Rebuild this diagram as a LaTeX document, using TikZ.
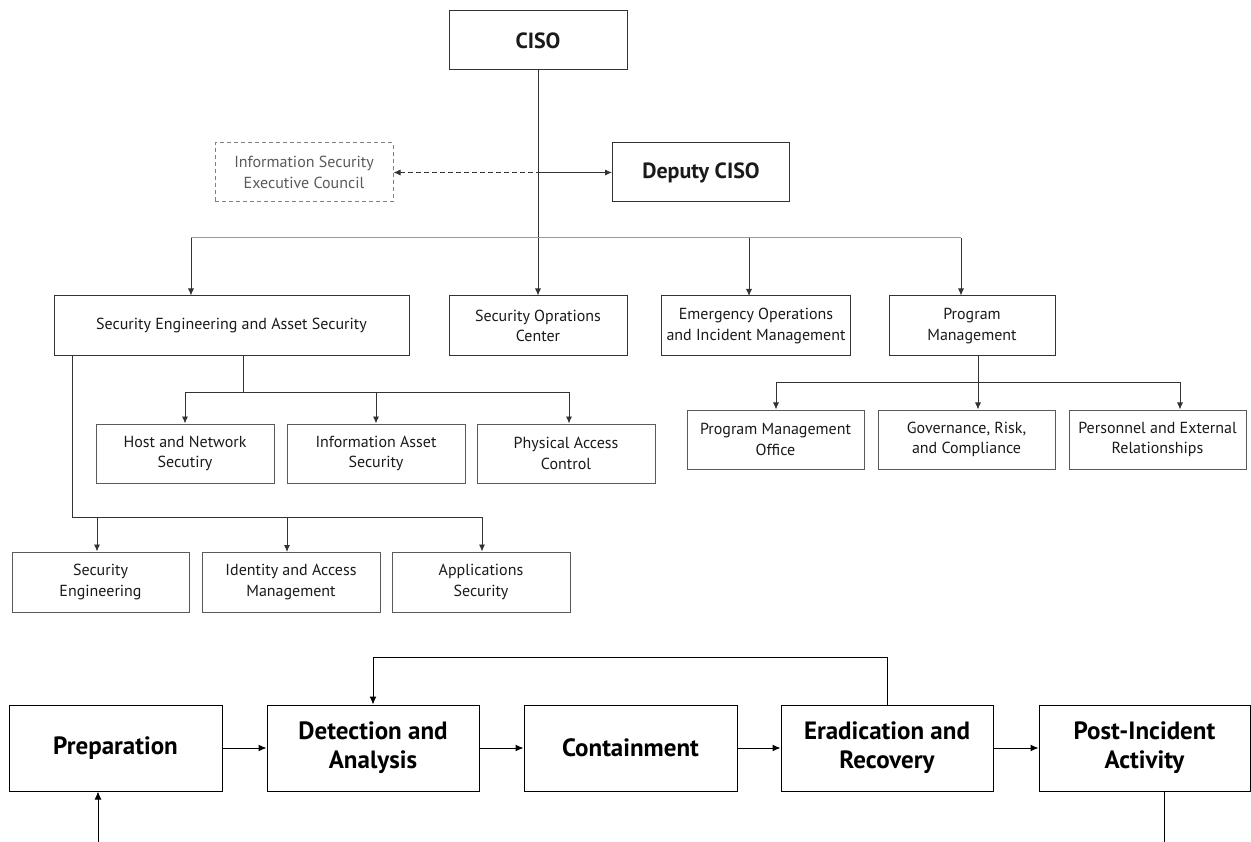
\documentclass[tikz,border=0pt]{standalone}
\usepackage{fontspec}
\setmainfont{PT Sans}
\usetikzlibrary{arrows.meta}
\definecolor{edge}{HTML}{333333}
\definecolor{soft}{HTML}{5A5A5A}
\definecolor{bus}{HTML}{9A9A9A}
\definecolor{ink}{HTML}{1A1A1A}
\begin{document}
\begin{tikzpicture}[x=1pt,y=-1pt,
  box/.style={draw=edge,line width=1pt,rectangle,inner sep=0pt,align=center,
    text=ink,font=\fontsize{16}{20.5}\selectfont},
  unit/.style={box,minimum width=178pt,minimum height=59pt},
  lead/.style={box,minimum width=178pt,minimum height=59pt,
    font=\fontsize{22}{26}\selectfont\bfseries},
  stage/.style={box,draw=black,minimum width=212pt,minimum height=86pt,text=black,
    font=\fontsize{25}{29}\selectfont\bfseries},
  council/.style={box,draw=gray,dash pattern=on 4pt off 3pt,text=soft},
  link/.style={draw=edge,line width=0.9pt},
  arr/.style={link,-{Latex[length=7pt,width=6pt]}},
]
\useasboundingbox (0,0) rectangle (1251,842);

% leadership
\node[lead] (ciso) at (538,40.5) {CISO};
\node[council,minimum width=178pt,minimum height=59pt] (council) at (304,172.5)
  {Information Security\\Executive Council};
\node[lead,minimum width=177pt] (deputy) at (701,172.5) {Deputy CISO};

% divisions
\node[unit,minimum width=355pt,minimum height=60pt] (seas) at (231.5,326)
  {Security Engineering and Asset Security};
\node[unit,minimum height=60pt] (soc) at (538,326) {Security Oprations\\Center};
\node[unit,minimum width=189pt,minimum height=60pt] (eoim) at (756,326)
  {Emergency Operations\\and Incident Management};
\node[unit,minimum width=166pt,minimum height=60pt] (pm) at (972,326)
  {Program\\Management};

% asset security teams
\node[unit,draw=soft] (hns) at (185,453.5) {Host and Network\\Secutiry};
\node[unit,draw=soft] (ias) at (376,453.5) {Information Asset\\Security};
\node[unit,draw=soft] (pac) at (566,453.5) {Physical Access\\Control};

% engineering teams
\node[unit,draw=soft,minimum width=177pt,minimum height=60pt] (se) at (100.5,582) {Security\\Engineering};
\node[unit,draw=soft,minimum height=60pt] (iam) at (291,582) {Identity and Access\\Management};
\node[unit,draw=soft,minimum height=60pt] (aps) at (481,582) {Applications\\Security};

% program management teams
\node[unit,draw=soft,minimum width=177pt] (pmo) at (775.5,439.5) {Program Management\\Office};
\node[unit,draw=soft,minimum width=177pt] (grc) at (966.5,439.5) {Governance, Risk,\\and Compliance};
\node[unit,draw=soft,minimum width=177pt] (per) at (1157.5,439.5) {Personnel and External\\Relationships};

% CISO line and council link
\draw[arr] (ciso.south) -- (soc.north);
\coordinate (meet) at (council.east -| ciso.south);
\draw[link,dash pattern=on 5pt off 3pt,{Latex[length=7pt,width=6pt]}-] (council.east) -- (meet);
\draw[arr] (meet) -- (deputy.west);

% main bus under the deputy
\coordinate (busL) at (191,238);
\coordinate (busR) at (961,238);
\draw[draw=bus,line width=1pt] (busL) -- (busR);
\draw[arr] (busL) -- (busL |- seas.north);
\draw[arr] (749,238) -- (749,296);
\draw[arr] (busR) -- (busR |- pm.north);

% asset security branch
\coordinate (aStem) at (243,356);
\coordinate (aL) at (185,392);
\coordinate (aR) at (569,392);
\draw[link] (aStem) -- (aStem |- aL);
\draw[link] (aL) -- (aR);
\draw[arr] (aL) -- (aL |- hns.north);
\draw[arr] (376,392) -- (ias.north);
\draw[arr] (aR) -- (aR |- pac.north);

% engineering branch
\coordinate (eStem) at (72,356);
\coordinate (eL) at (97,517);
\coordinate (eR) at (482,517);
\draw[link] (eStem) -- (eStem |- eR) -- (eR);
\draw[arr] (eL) -- (eL |- se.north);
\draw[arr] (287,517) -- (287,552);
\draw[arr] (eR) -- (eR |- aps.north);

% program management branch
\coordinate (pStem) at (978,356);
\coordinate (pL) at (776,382);
\coordinate (pR) at (1180,382);
\draw[link] (pL) -- (pR);
\draw[arr] (pStem) -- (pStem |- grc.north);
\draw[arr] (pL) -- (pL |- pmo.north);
\draw[arr] (pR) -- (pR |- per.north);

% incident response life cycle
\node[stage,minimum width=213pt] (prep) at (115.5,748) {Preparation};
\node[stage] (det) at (373,748) {Detection and\\Analysis};
\node[stage,minimum width=213pt] (cont) at (630.5,748) {Containment};
\node[stage] (erad) at (887,748) {Eradication and\\Recovery};
\node[stage,minimum width=211pt] (post) at (1144.5,748) {Post-Incident\\Activity};

\tikzset{flow/.style={draw=black,line width=1pt,-{Latex[length=8pt,width=7pt]}}}
\draw[flow] (prep.east) -- (det.west);
\draw[flow] (det.east) -- (cont.west);
\draw[flow] (cont.east) -- (erad.west);
\draw[flow] (erad.east) -- (post.west);
\coordinate (loopTop) at (887,657);
\draw[flow] (erad.north) -- (loopTop) -- (loopTop -| det.north) -- (det.north);
\coordinate (inPrep) at (98,842);
\draw[flow] (inPrep) -- (inPrep |- prep.south);
\coordinate (outPost) at (1164,842);
\draw[draw=black,line width=1pt] (outPost |- post.south) -- (outPost);
\end{tikzpicture}
\end{document}
